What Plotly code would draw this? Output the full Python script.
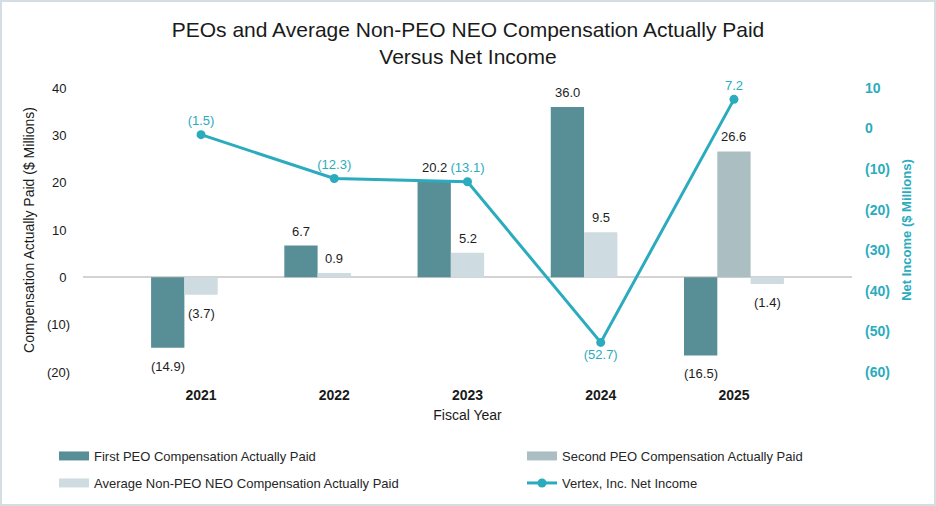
import plotly.graph_objects as go

# ---------------- data ----------------
years = [2021, 2022, 2023, 2024, 2025]
first_peo = [-14.9, 6.7, 20.2, 36.0, -16.5]
second_peo = [None, None, None, None, 26.6]
avg_neo = [-3.7, 0.9, 5.2, 9.5, -1.4]
net_income = [-1.5, -12.3, -13.1, -52.7, 7.2]
left_ticks = [-20, -10, 0, 10, 20, 30, 40]
right_ticks = [-60, -50, -40, -30, -20, -10, 0, 10]

# ---------------- styles ----------------
FONT = "Liberation Sans, Arial, sans-serif"
C_FIRST = "#588F96"
C_SECOND = "#ABBEC2"
C_AVG = "#CEDCE1"
C_LINE = "#2BABBE"
C_TEXT = "#1E1E1E"

W, H = 936, 506
ML, MR, MT, MB = 83, 84, 88, 134
PW, PH = W - ML - MR, H - MT - MB
BAR_W = 0.25


def fmt(v):
    if v is None:
        return ""
    return f"({abs(v):.1f})" if v < 0 else f"{v:.1f}"


def fmt_tick(v, pad=True):
    if v < 0:
        return f"({abs(v)})"
    return f"{v}\u2008" if pad else f"{v}"


def px_x(px):
    return (px - ML) / PW


def px_y(py):
    return (H - MB - py) / PH


avg_offsets = [-0.5 * BAR_W if s is None else 0.5 * BAR_W for s in second_peo]

fig = go.Figure()

bar_specs = [
    ("First PEO Compensation Actually Paid", first_peo, [-1.5 * BAR_W] * len(years), C_FIRST, "legend"),
    ("Second PEO Compensation Actually Paid", second_peo, [-0.5 * BAR_W] * len(years), C_SECOND, "legend2"),
    ("Average Non-PEO NEO Compensation Actually Paid", avg_neo, avg_offsets, C_AVG, "legend3"),
]

annotations = []
for name, vals, offs, color, leg in bar_specs:
    fig.add_trace(go.Bar(
        x=years, y=vals, name=name,
        width=BAR_W, offset=offs, marker=dict(color=color, line=dict(width=0)),
        showlegend=False,
    ))
    # legend entry drawn as a wide swatch (legend-only, no data)
    fig.add_trace(go.Scatter(
        x=[None], y=[None], name=name, mode="lines",
        line=dict(color=color, width=9), legend=leg, hoverinfo="skip",
    ))
    for yr, v, o in zip(years, vals, offs):
        if v is None:
            continue
        annotations.append(dict(
            x=yr + o + BAR_W / 2, y=v, xref="x", yref="y",
            text=fmt(v), showarrow=False,
            yanchor="bottom" if v >= 0 else "top",
            yshift=5 if v >= 0 else -9,
            font=dict(family=FONT, size=13, color=C_TEXT),
        ))

fig.add_trace(go.Scatter(
    x=years, y=net_income, name="Vertex, Inc. Net Income", yaxis="y2",
    mode="lines+markers+text",
    line=dict(color=C_LINE, width=3), marker=dict(color=C_LINE, size=9),
    text=[fmt(v) for v in net_income],
    textposition=["bottom center" if v == min(net_income) else "top center" for v in net_income],
    textfont=dict(family=FONT, size=13, color=C_LINE), cliponaxis=False,
    legend="legend4",
))

leg_common = dict(orientation="h", bgcolor="rgba(0,0,0,0)", yanchor="middle", xanchor="left",
                  xref="container", yref="container",
                  font=dict(family=FONT, size=13, color="#262626"))

fig.update_layout(
    width=W, height=H, autosize=False,
    margin=dict(l=ML, r=MR, t=MT, b=MB, autoexpand=False),
    paper_bgcolor="white", plot_bgcolor="white",
    barmode="overlay",
    showlegend=True,
    font=dict(family=FONT, color=C_TEXT),
    title=dict(
        text="PEOs and Average Non-PEO NEO Compensation Actually Paid<br>Versus Net Income",
        x=0.5, xanchor="center", xref="container",
        y=1 - 37 / H, yanchor="middle", yref="container",
        font=dict(family=FONT, size=21, color="#1A1A1A"),
    ),
    xaxis=dict(
        range=[years[0] - 0.886, years[-1] + 0.886],
        tickvals=years, ticktext=[str(y) for y in years],
        tickfont=dict(family=FONT, size=14, color="#1A1A1A", weight="bold"),
        showgrid=False, zeroline=False, showline=False, ticks="",
        ticklabelstandoff=13,
        title=dict(text="Fiscal Year", font=dict(family=FONT, size=14, color="#1A1A1A"), standoff=8),
    ),
    yaxis=dict(
        range=[left_ticks[0], left_ticks[-1]],
        tickvals=left_ticks, ticktext=[fmt_tick(v) for v in left_ticks],
        tickfont=dict(family=FONT, size=13, color="#1A1A1A"),
        showgrid=False, zeroline=True, zerolinecolor="#D3D3D3", zerolinewidth=1.5,
        showline=False, ticks="", ticklabelstandoff=12,
        title=dict(text="Compensation Actually Paid ($ Millions)",
                   font=dict(family=FONT, size=14, color="#1A1A1A"), standoff=8),
    ),
    yaxis2=dict(
        overlaying="y", side="right",
        range=[right_ticks[0], right_ticks[-1]],
        tickvals=right_ticks, ticktext=[fmt_tick(v, pad=False) for v in right_ticks],
        tickfont=dict(family=FONT, size=14, color=C_LINE, weight="bold"),
        showgrid=False, zeroline=False, showline=False, ticks="", ticklabelstandoff=12,
        title=dict(text="Net Income ($ Millions)",
                   font=dict(family=FONT, size=13, color=C_LINE, weight="bold"), standoff=12),
    ),
    legend=dict(x=54 / W, y=1 - 456 / H, **leg_common),
    legend2=dict(x=522 / W, y=1 - 456 / H, **leg_common),
    legend3=dict(x=54 / W, y=1 - 483 / H, **leg_common),
    legend4=dict(x=522 / W, y=1 - 483 / H, **leg_common),
    annotations=annotations,
    shapes=[dict(type="rect", xref="paper", yref="paper",
                 x0=px_x(1), x1=px_x(W - 1), y0=px_y(H - 1), y1=px_y(1),
                 line=dict(color="#D3DEE2", width=2), fillcolor="rgba(0,0,0,0)", layer="below")],
)

fig.write_html("out.html")
